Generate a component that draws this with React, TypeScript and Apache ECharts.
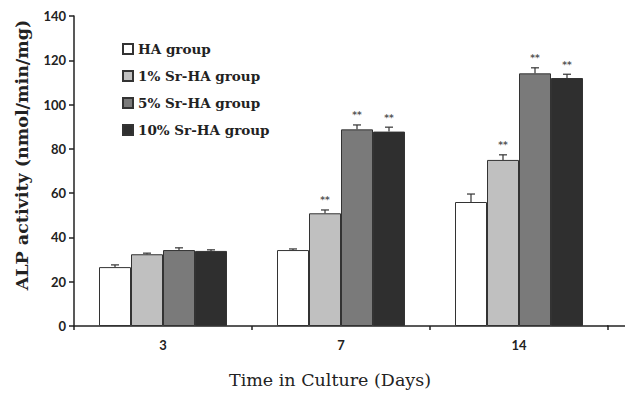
import React, { useEffect, useRef } from "react";
import * as echarts from "echarts";

const categories = ["3", "7", "14"];
const seriesNames = ["HA group", "1% Sr-HA group", "5% Sr-HA group", "10% Sr-HA group"];
const haValues = [26.6, 34.3, 56.0];
const sr1Values = [32.4, 50.9, 75.0];
const sr5Values = [34.3, 88.8, 114.1];
const sr10Values = [33.9, 87.8, 112.0];
const haErrors = [1.0, 0.5, 3.6];
const sr1Errors = [0.5, 1.5, 2.3];
const sr5Errors = [1.0, 2.0, 2.5];
const sr10Errors = [0.5, 2.0, 1.7];
const haStars = ["", "", ""];
const sr1Stars = ["", "**", "**"];
const sr5Stars = ["", "**", "**"];
const sr10Stars = ["", "**", "**"];
const yTicks = [0, 20, 40, 60, 80, 100, 120, 140];

const colors = ["#ffffff", "#c0c0c0", "#7a7a7a", "#2f2f2f"];
const BAR_W = 32;

export default function App() {
  const ref = useRef<HTMLDivElement>(null);
  useEffect(() => {
    if (!ref.current) return;
    const chart = echarts.init(ref.current, null, { renderer: "svg" });
    const values = [haValues, sr1Values, sr5Values, sr10Values];
    const errors = [haErrors, sr1Errors, sr5Errors, sr10Errors];
    const stars = [haStars, sr1Stars, sr5Stars, sr10Stars];

    const barSeries = seriesNames.map((name, i) => ({
      name,
      type: "bar",
      data: values[i],
      barWidth: BAR_W,
      barGap: "0%",
      itemStyle: { color: colors[i], borderColor: "#333", borderWidth: 1 },
      z: 2,
    }));

    const errData: any[] = [];
    values.forEach((vals, s) => {
      vals.forEach((v, c) => {
        errData.push([c, v, errors[s][c], s, stars[s][c]]);
      });
    });

    const errSeries = {
      type: "custom",
      name: "err",
      data: errData,
      z: 5,
      renderItem: (params: any, api: any) => {
        const c = api.value(0);
        const v = api.value(1);
        const e = api.value(2);
        const s = api.value(3);
        const star = errData[params.dataIndex][4];
        const base = api.coord([c, v]);
        const top = api.coord([c, v + e]);
        const x = base[0] + (s - 1.5) * BAR_W;
        const children: any[] = [
          {
            type: "line",
            shape: { x1: x, y1: base[1], x2: x, y2: top[1] },
            style: { stroke: "#333", lineWidth: 1.2 },
          },
          {
            type: "line",
            shape: { x1: x - 4, y1: top[1], x2: x + 4, y2: top[1] },
            style: { stroke: "#333", lineWidth: 1.2 },
          },
        ];
        if (star) {
          children.push({
            type: "text",
            style: {
              text: star,
              x: x,
              y: top[1] - 5,
              align: "center",
              verticalAlign: "bottom",
              fill: "#555",
              font: "bold 9px 'DejaVu Sans'",
            },
          });
        }
        return { type: "group", children };
      },
    };

    chart.setOption({
      animation: false,
      backgroundColor: "#ffffff",
      grid: { left: 74, right: 17, top: 16, bottom: 67, containLabel: false },
      legend: {
        orient: "vertical",
        left: 117,
        top: 37,
        itemWidth: 10,
        itemHeight: 10,
        itemGap: 13,
        data: seriesNames,
        icon: "rect",
        textStyle: {
          fontFamily: "DejaVu Serif",
          fontWeight: "bold",
          fontSize: 13.5,
          color: "#222",
          lineHeight: 14,
        },
      },
      xAxis: {
        type: "category",
        data: categories,
        axisLine: { lineStyle: { color: "#222", width: 1.5 } },
        axisTick: { show: true, length: 4, lineStyle: { color: "#222", width: 1.5 } },
        axisLabel: {
          color: "#222",
          fontFamily: "Lato",
          fontWeight: "bold",
          fontSize: 13,
          margin: 12,
        },
      },
      yAxis: {
        type: "value",
        min: yTicks[0],
        max: yTicks[yTicks.length - 1],
        interval: 20,
        splitLine: { show: false },
        axisLine: { show: true, lineStyle: { color: "#222", width: 1.5 } },
        axisTick: { show: true, length: 5, lineStyle: { color: "#222", width: 1.5 } },
        axisLabel: {
          color: "#222",
          fontFamily: "Lato",
          fontWeight: "bold",
          fontSize: 13,
          margin: 8,
        },
      },
      graphic: [
        {
          type: "line",
          shape: { x1: 607, y1: 326, x2: 625, y2: 326 },
          style: { stroke: "#222", lineWidth: 1.5 },
        },
        {
          type: "text",
          x: 22,
          y: 155,
          rotation: Math.PI / 2,
          style: {
            text: "ALP activity (nmol/min/mg)",
            align: "center",
            verticalAlign: "middle",
            fill: "#222",
            font: "bold 17.5px 'DejaVu Serif'",
          },
        },
        {
          type: "text",
          x: 330,
          y: 380,
          style: {
            text: "Time in Culture (Days)",
            align: "center",
            verticalAlign: "middle",
            fill: "#222",
            font: "17.5px 'DejaVu Serif'",
          },
        },
      ],
      series: [...barSeries, errSeries],
    });
    return () => chart.dispose();
  }, []);
  return <div ref={ref} style={{ width: 625, height: 393, position: "absolute", left: 0, top: 0 }} />;
}
